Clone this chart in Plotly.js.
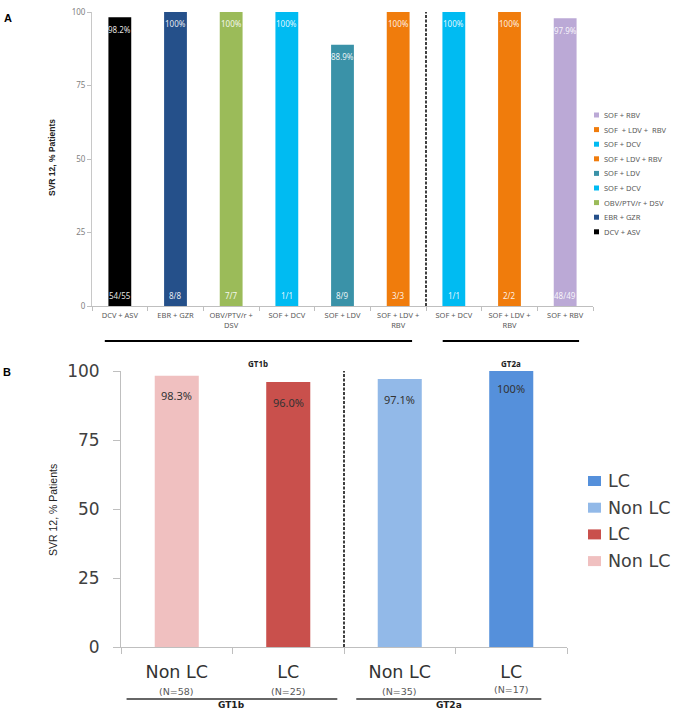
<!DOCTYPE html>
<html>
<head>
<meta charset="utf-8">
<script src="https://cdn.plot.ly/plotly-3.0.1.min.js"></script>
<style>
  html, body { margin: 0; padding: 0; background: #fff; }
  #chart { width: 677px; height: 710px; }
</style>
</head>
<body>
<div id="chart"></div>
<script>
// Panel A: SVR12 by regimen
const regimensA = ['DCV + ASV', 'EBR + GZR', 'OBV/PTV/r +<br>DSV', 'SOF + DCV', 'SOF + LDV',
                   'SOF + LDV +<br>RBV', 'SOF + DCV', 'SOF + LDV +<br>RBV', 'SOF + RBV'];
const legendNamesA = ['DCV + ASV', 'EBR + GZR', 'OBV/PTV/r + DSV', 'SOF + DCV', 'SOF + LDV',
                      'SOF + LDV + RBV', 'SOF + DCV', 'SOF\u00a0\u00a0+ LDV +\u00a0\u00a0RBV', 'SOF + RBV'];
const svrA = [98.2, 100, 100, 100, 88.9, 100, 100, 100, 97.9];
const countsA = ['54/55', '8/8', '7/7', '1/1', '8/9', '3/3', '1/1', '2/2', '48/49'];
const colorsA = ['#000000', '#25508A', '#9BBB59', '#00BBF2', '#3A92A8',
                 '#F07C0C', '#00BBF2', '#F07C0C', '#BBA9D6'];
const groupsA = ['GT1b', 'GT2a'];

// Panel B: SVR12 by cirrhosis status
const statusB = ['Non LC', 'LC', 'Non LC', 'LC'];
const nB = [58, 25, 35, 17];
const svrB = [98.3, 96.0, 97.1, 100];
const colorsB = ['#F0C0C0', '#C9504C', '#92B9E8', '#5590DB'];
const groupsB = ['GT1b', 'GT2a'];

const W = 677, H = 710;
const px = v => v / W;          // horizontal pixel -> paper
const py = v => 1 - v / H;      // vertical pixel -> paper
const pct = v => (v === 100 ? '100%' : v.toFixed(1) + '%');

const traces = [];
regimensA.forEach((r, i) => {
  traces.push({
    type: 'bar', x: [i], y: [svrA[i]], name: legendNamesA[i],
    marker: { color: colorsA[i] }, width: 0.41,
    xaxis: 'x', yaxis: 'y', showlegend: false, hoverinfo: 'skip'
  });
});
statusB.forEach((s, i) => {
  traces.push({
    type: 'bar', x: [i], y: [svrB[i]], name: s,
    marker: { color: colorsB[i] }, width: 0.395,
    xaxis: 'x2', yaxis: 'y2', showlegend: false, hoverinfo: 'skip'
  });
});

const annotations = [];
const shapes = [];
const fontA = 'Noto Sans, DejaVu Sans, sans-serif';
const fontB = 'DejaVu Sans, Noto Sans, sans-serif';

// value and count labels inside bars of panel A
svrA.forEach((v, i) => {
  annotations.push({ xref: 'x', yref: 'y', x: i, y: v, text: pct(v), showarrow: false,
    yanchor: 'middle', yshift: -12, font: { family: fontA, size: 8, color: 'rgba(255,255,255,0.9)' } });
  annotations.push({ xref: 'x', yref: 'y', x: i, y: 0, text: countsA[i], showarrow: false,
    yanchor: 'middle', yshift: 11, font: { family: fontA, size: 8, color: 'rgba(255,255,255,0.9)' } });
});

// value labels of panel B
svrB.forEach((v, i) => {
  annotations.push({ xref: 'x2', yref: 'y2', x: i, y: v, text: pct(v), showarrow: false,
    yanchor: 'middle', yshift: v === 100 ? -17 : -20, font: { family: fontA, size: 11, color: '#333333' } });
});

// sample sizes under the panel B categories
nB.forEach((n, i) => {
  annotations.push({ xref: 'x2', yref: 'paper', x: i, y: py(i === 3 ? 689 : 691), text: '(N=' + n + ')',
    showarrow: false, xanchor: 'center', yanchor: 'middle', font: { family: fontB, size: 9.5, color: '#595959' } });
});

// genotype separators
shapes.push({ type: 'line', xref: 'x', yref: 'y', x0: 5.5, x1: 5.5, y0: 0, y1: 100,
  line: { color: '#000', width: 1.5, dash: '3px,1.5px' } });
shapes.push({ type: 'line', xref: 'x2', yref: 'y2', x0: 1.5, x1: 1.5, y0: 0, y1: 100,
  line: { color: '#000', width: 1.5, dash: '3px,1.5px' } });

// genotype brackets, panel A
[[-0.27, 5.25], [5.8, 8.25]].forEach((seg, k) => {
  shapes.push({ type: 'line', xref: 'x', yref: 'paper', x0: seg[0], x1: seg[1], y0: py(341), y1: py(341),
    line: { color: '#000', width: 2 } });
  annotations.push({ xref: 'x', yref: 'paper', x: (seg[0] + seg[1]) / 2, y: py(363), text: '<b>' + groupsA[k] + '</b>',
    showarrow: false, xanchor: 'center', yanchor: 'middle', font: { family: fontA, size: 8, color: '#222' } });
});

// genotype brackets, panel B
[[-0.45, 1.44], [1.61, 3.27]].forEach((seg, k) => {
  shapes.push({ type: 'line', xref: 'x2', yref: 'paper', x0: seg[0], x1: seg[1], y0: py(699), y1: py(699),
    line: { color: '#333', width: 1.5 } });
  annotations.push({ xref: 'x2', yref: 'paper', x: (seg[0] + seg[1]) / 2, y: py(705), text: '<b>' + groupsB[k] + '</b>',
    showarrow: false, xanchor: 'center', yanchor: 'middle', font: { family: fontB, size: 9, color: '#222' } });
});

// legend, panel A (last regimen on top)
for (let k = 0; k < legendNamesA.length; k++) {
  const i = legendNamesA.length - 1 - k;
  const yc = 115 + k * 14.6;
  shapes.push({ type: 'rect', xref: 'paper', yref: 'paper', x0: px(594), x1: px(599), y0: py(yc + 2.5), y1: py(yc - 2.5),
    fillcolor: colorsA[i], line: { width: 0 } });
  annotations.push({ xref: 'paper', yref: 'paper', x: px(602), y: py(yc), text: legendNamesA[i], showarrow: false,
    xanchor: 'left', yanchor: 'middle', font: { family: fontA, size: 7.5, color: '#595959' } });
}

// legend, panel B (last bar on top)
for (let k = 0; k < statusB.length; k++) {
  const i = statusB.length - 1 - k;
  const yc = 481 + k * 26.7;
  shapes.push({ type: 'rect', xref: 'paper', yref: 'paper', x0: px(588), x1: px(601), y0: py(yc + 5), y1: py(yc - 5),
    fillcolor: colorsB[i], line: { width: 0 } });
  annotations.push({ xref: 'paper', yref: 'paper', x: px(606), y: py(yc), text: statusB[i], showarrow: false,
    xanchor: 'left', yanchor: 'middle', font: { family: fontB, size: 17.5, color: '#404040' } });
}

// axis titles and panel letters
annotations.push({ xref: 'paper', yref: 'paper', x: px(52), y: py(158), text: '<b>SVR 12, % Patients</b>', textangle: -90,
  xanchor: 'center', yanchor: 'middle',
  showarrow: false, font: { family: 'Liberation Sans, Arial, sans-serif', size: 8.5, color: '#222' } });
annotations.push({ xref: 'paper', yref: 'paper', x: px(53), y: py(510), text: 'SVR 12, % Patients', textangle: -90,
  xanchor: 'center', yanchor: 'middle',
  showarrow: false, font: { family: 'Liberation Sans, Arial, sans-serif', size: 10.5, color: '#222' } });
annotations.push({ xref: 'paper', yref: 'paper', x: px(2), y: py(18), text: '<b>A</b>', xanchor: 'left', yanchor: 'middle',
  showarrow: false, font: { family: 'Liberation Sans, Arial, sans-serif', size: 11, color: '#000' } });
annotations.push({ xref: 'paper', yref: 'paper', x: px(1), y: py(372), text: '<b>B</b>', xanchor: 'left', yanchor: 'middle',
  showarrow: false, font: { family: 'Liberation Sans, Arial, sans-serif', size: 11, color: '#000' } });

const boundsA = regimensA.map((_, i) => i - 0.5).concat([regimensA.length - 0.5]);
const boundsB = statusB.map((_, i) => i - 0.5).concat([statusB.length - 0.5]);

const layout = {
  width: W, height: H,
  margin: { l: 0, r: 0, t: 0, b: 0 },
  paper_bgcolor: '#fff', plot_bgcolor: 'rgba(0,0,0,0)',
  showlegend: false,
  xaxis: {
    domain: [px(92), px(593)], range: [-0.5, 8.5], fixedrange: true,
    tickmode: 'array', tickvals: regimensA.map((_, i) => i), ticktext: regimensA,
    ticks: '', showgrid: false, zeroline: false,
    showline: true, linecolor: '#BFBFBF', linewidth: 1,
    tickfont: { family: fontA, size: 7.5, color: '#595959' },
    ticklabelstandoff: 2,
    minor: { tickmode: 'array', tickvals: boundsA, ticks: 'outside', ticklen: 4, tickcolor: '#BFBFBF', showgrid: false },
    anchor: 'y'
  },
  yaxis: {
    domain: [py(306), py(12)], range: [0, 100], fixedrange: true,
    tickmode: 'array', tickvals: [0, 25, 50, 75, 100],
    ticks: 'outside', ticklen: 4, tickcolor: '#BFBFBF',
    showgrid: false, zeroline: false,
    showline: true, linecolor: '#C8C8C8', linewidth: 1,
    tickfont: { family: fontA, size: 8, color: '#7F7F7F' },
    anchor: 'x'
  },
  xaxis2: {
    domain: [px(121), px(567)], range: [-0.5, 3.5], fixedrange: true,
    tickmode: 'array', tickvals: statusB.map((_, i) => i), ticktext: statusB,
    ticks: '', showgrid: false, zeroline: false,
    showline: true, linecolor: '#BFBFBF', linewidth: 1,
    tickfont: { family: fontB, size: 17.5, color: '#333333' },
    ticklabelstandoff: 9,
    minor: { tickmode: 'array', tickvals: boundsB, ticks: 'outside', ticklen: 6, tickcolor: '#BFBFBF', showgrid: false },
    anchor: 'y2'
  },
  yaxis2: {
    domain: [py(647), py(371)], range: [0, 100], fixedrange: true,
    tickmode: 'array', tickvals: [0, 25, 50, 75, 100],
    ticks: 'outside', ticklen: 7, tickcolor: '#BFBFBF',
    showgrid: false, zeroline: false,
    showline: true, linecolor: '#BFBFBF', linewidth: 1,
    tickfont: { family: fontB, size: 17, color: '#404040' },
    ticklabelstandoff: 10,
    anchor: 'x2'
  },
  annotations: annotations,
  shapes: shapes
};

Plotly.newPlot('chart', traces, layout, { displayModeBar: false, staticPlot: true });
</script>
</body>
</html>
